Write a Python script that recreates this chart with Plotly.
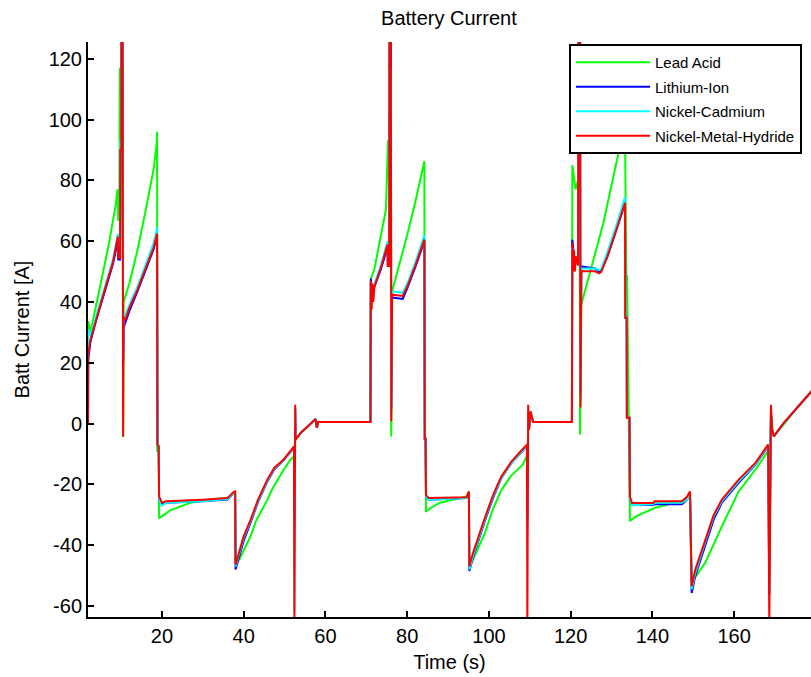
import plotly.graph_objects as go

# ---------------- data ----------------
series_names = ["Lead Acid", "Lithium-Ion", "Nickel-Cadmium", "Nickel-Metal-Hydride"]
series_colors = ["#00FF00", "#0000FF", "#00FFFF", "#FF0000"]

# shared time base for Lithium-Ion, Nickel-Cadmium and NiMH (s)
time_main = [
    1.9, 1.95, 2.5, 4, 6, 8, 9.2, 9.3, 9.75, 9.8, 10.05, 10.1, 10.35, 10.5, 10.6, 11, 12, 14, 16, 18,
    18.8, 18.9, 19.2, 19.3, 20, 21, 30, 36, 37.5, 37.9, 38.0, 38.5, 40, 41.7, 43.5, 45.8, 47.5, 49.8,
    52.3, 52.4, 52.6, 52.7, 54, 57.2, 57.6, 57.9, 58.2, 71.0, 71.1, 71.3, 71.5, 71.7, 72, 73.5, 75.2,
    75.25, 75.6, 75.7, 76.0, 76.1, 76.3, 78.9, 80, 82, 84.2, 84.3, 84.5, 84.6, 85.3, 94.5, 95.1, 95.2,
    96, 99, 101, 103, 105.5, 107.5, 109.3, 109.4, 109.6, 109.8, 110.2, 110.8, 120.3, 120.4, 120.6,
    120.8, 121.0, 121.3, 121.8, 121.9, 122.3, 122.4, 122.6, 126, 127, 127.5, 129, 131, 133.3, 133.35,
    133.7, 133.75, 134.4, 134.5, 135, 140.2, 140.5, 147.2, 148.5, 149.2, 149.6, 150.5, 152.9, 155, 157,
    161.1, 165.2, 168.3, 168.6, 169.0, 169.3, 169.7, 172, 175, 179.3,
]

current_nimh = [
    0, 22.7, 27.6, 35, 44, 53, 61.5, 54.6, 54.5, 90, 90, 128, 128, -4.2, 35, 34, 38, 44, 51, 58,
    62.5, -7, -7.5, -24, -26, -25.5, -25, -24.5, -22.5, -22.3, -46.4, -44, -37, -31.6, -25, -18.4, -14.5, -11.8,
    -7.5, -66, 6.2, -5.3, -3, 1.3, 1.5, -1.4, 0.5, 0.5, 47, 37.5, 46, 40, 45.2, 51, 58.9,
    51.8, 51.8, 128, 128, 0.8, 42.4, 42, 45, 52, 60.5, -5, -5, -23.5, -24.5, -24.2, -22.3, -47,
    -43, -31, -23.5, -17.5, -12.5, -9.5, -6.9, -66, 6.2, -2, 4, 0.5, 0.5, 59.5, 50,
    57, 50, 55, 52, 128, 128, 5.3, 50.1, 50.1, 49.4, 50, 55, 63, 72.6, 34.8,
    34.8, 1.9, 1.9, -24, -26.1, -26.1, -25.5, -25.5, -24, -22.3, -53.5, -48, -38.2, -30, -25,
    -18.4, -12.9, -6.9, -66, 6.2, -2, -4.2, 0, 4.5, 11.2,
]

current_liion = [
    0, 21, 27, 34.5, 43.5, 52.5, 60, 54, 54, 90, 90, 128, 128, 20, 31.6, 33, 37, 43.5, 50.5, 57.5,
    62, -7, -7.5, -25, -26.5, -26, -25.5, -25, -23, -23, -48, -45.5, -38.5, -32.5, -25.8, -19, -15, -12,
    -8, -32, 5, -5.3, -3, 1.3, 1.5, -1.4, 0.5, 0.5, 47.7, 45, 44, 44, 45, 50.5, 58,
    52, 52, 128, 128, 5, 41.5, 41, 44.5, 51.5, 60, -5, -5, -24, -25, -24.5, -23, -48.5,
    -44.5, -32, -24.5, -18, -13, -10, -7.5, -31, 3, -2, 3, 0.5, 0.5, 60.5, 58,
    55, 53, 54, 53, 128, 128, 10, 51.7, 51, 50, 50.5, 55, 63, 72.5, 34.8,
    34.8, 1.9, 1.9, -25, -26.8, -26.8, -26.5, -26.5, -25, -23, -55.7, -50, -40, -31.5, -26,
    -19.5, -13.5, -7.5, -56, 3, -2, -4.2, 0, 4.5, 11.2,
]

current_nicd = [
    0, 31, 29, 36, 45, 54, 62.5, 56, 56, 92.9, 92.9, 128, 128, 25, 34, 35.5, 39, 45, 52.5, 59.5,
    64.5, -7, -7.5, -25, -27, -26, -25.5, -24.8, -23, -22.8, -47, -44.5, -37.5, -32, -25.5, -18.8, -14.8, -12,
    -7.8, -62, 5, -5.3, -3, 1.3, 1.5, -1.4, 0.5, 0.5, 46.5, 44, 45, 44.5, 46, 52, 60,
    53, 53, 116, 116, 3, 43.5, 43, 46, 53, 62, -5, -5, -24, -25, -24.5, -22.8, -48,
    -44, -31.5, -24, -18, -13, -10, -7.2, -33, 4, -2, 3, 0.5, 0.5, 58, 56,
    55, 54, 55, 54, 128, 128, 8, 51, 51, 50.5, 51, 56.5, 64.5, 74.5, 34.8,
    34.8, 1.9, 1.9, -25, -26.8, -26.5, -26, -26, -25, -23, -54.5, -49, -39, -30.5, -25.5,
    -19, -13.3, -7.2, -55, 3, -2, -4.2, 0, 4.5, 11.2,
]

# Lead Acid has its own time base
time_lead = [
    1.9, 1.95, 2.5, 3, 5, 7, 8.7, 9.1, 9.3, 9.55, 9.6, 9.7, 9.8, 10.1, 10.35, 10.5, 10.6, 12, 14, 16,
    18, 18.7, 18.8, 18.85, 19.2, 19.3, 20, 22, 24.5, 27, 30, 36, 37.5, 37.9, 38.0, 39, 41.7, 43, 45.8,
    47, 49.8, 51.5, 52.3, 52.4, 52.6, 52.7, 54, 57.2, 57.6, 57.9, 58.2, 71.0, 71.1, 72, 73.5, 74.8,
    75.3, 75.6, 75.7, 76.0, 76.1, 76.3, 78, 80, 82, 84.2, 84.3, 84.5, 84.6, 86, 88, 92, 94.5, 95.1,
    95.2, 96, 99, 101, 103, 105.5, 108.3, 109.3, 109.4, 109.6, 109.8, 110.2, 110.8, 120.3, 120.4,
    121.2, 121.8, 121.9, 122.1, 122.3, 122.6, 125, 128, 131.7, 133.3, 133.6, 133.8, 134.5, 136, 140.6,
    144, 147.2, 148.5, 149.2, 149.6, 150.5, 152.9, 157, 161.1, 165.2, 168.3, 168.6, 169.0, 169.3,
    169.7, 172, 175, 179.3,
]

current_lead = [
    0, 33.7, 30, 33, 46, 59, 72, 77, 67, 67, 117, 117, 60, 128, 128, -4.5, 40, 46, 57, 70,
    84, 92, 96, -9, -9, -31, -30.5, -28.5, -27.2, -26, -25.3, -24.4, -23, -22.6, -46, -44.5, -37, -32, -25,
    -21.5, -15.1, -11.8, -10.8, -30, -4, -5.3, -3, 1.3, 1.5, -1.4, 0.5, 0.5, 47.4, 51, 61, 70.4,
    92.9, 92.9, 128, 128, -4.2, 43.4, 52, 62, 73, 86.3, -5, -5, -29, -27.5, -26, -24.8, -24, -22.5,
    -47, -45, -36, -28, -22, -17, -13.5, -10.5, -25, 3, -2, 4, 0.5, 0.5, 85,
    77, 80, 128, 128, -3.6, 39.2, 51, 66, 89, 95, 48.5, 48.5, -32, -30.5, -27.7,
    -26.5, -26, -24.5, -23, -52, -50.5, -45.8, -33.8, -22.3, -15.1, -9.1, -25, 4, -2,
    -4.2, -0.5, 4.5, 11.2,
]

x_ticks = [20, 40, 60, 80, 100, 120, 140, 160]
y_ticks = [-60, -40, -20, 0, 20, 40, 60, 80, 100, 120]
x_range = [1.9, 178.8]
y_range = [-63.6, 125.5]

# ---------------- figure ----------------
FONT = "Liberation Sans, Arial, Helvetica, sans-serif"

series_x = [time_lead, time_main, time_main, time_main]
series_y = [current_lead, current_liion, current_nicd, current_nimh]

fig = go.Figure()
for name, color, xs, ys in zip(series_names, series_colors, series_x, series_y):
    fig.add_trace(go.Scatter(
        x=xs, y=ys, mode="lines", name=name, legendgroup=name,
        line=dict(color=color, width=2),
    ))

axis_common = dict(
    showline=True, linecolor="black", linewidth=2,
    ticks="inside", ticklen=6, tickwidth=1.5, tickcolor="black",
    showgrid=False, zeroline=False, mirror=False,
    tickfont=dict(family=FONT, size=20, color="black"),
)

fig.update_layout(
    width=811, height=677,
    margin=dict(l=88, r=0, t=42, b=60),
    paper_bgcolor="white", plot_bgcolor="white",
    font=dict(family=FONT, color="black"),
    title=dict(text="Battery Current", x=0.5535, xanchor="center",
               y=1 - 18 / 677, yanchor="middle", yref="container",
               font=dict(family=FONT, size=20, color="black")),
    xaxis=dict(range=x_range, tickvals=x_ticks, ticktext=[str(v) for v in x_ticks],
               title=dict(text="Time (s)", font=dict(family=FONT, size=20), standoff=9),
               **axis_common),
    yaxis=dict(range=y_range, tickvals=y_ticks, ticktext=[str(v) for v in y_ticks],
               title=dict(text="Batt Current [A]", font=dict(family=FONT, size=20), standoff=14),
               **axis_common),
    legend=dict(
        x=(569 - 88) / 723, xanchor="left", y=1 - 2 / 575, yanchor="top",
        bgcolor="white", bordercolor="black", borderwidth=2,
        font=dict(family=FONT, size=15, color="black"),
        itemwidth=74, tracegroupgap=2,
    ),
    showlegend=True,
)

fig.write_html("out.html")
